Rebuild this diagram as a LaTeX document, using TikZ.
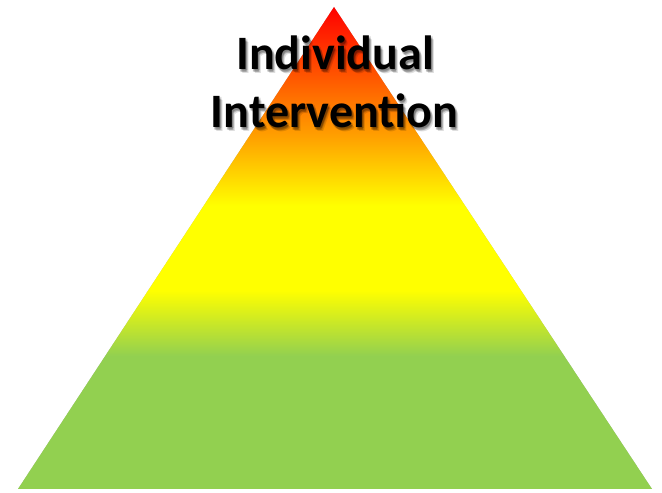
\documentclass[tikz,border=0pt]{standalone}
\usepackage{fontspec}
\setmainfont{Carlito}
\usetikzlibrary{positioning}
\definecolor{topred}{RGB}{255,0,0}
\definecolor{warmorange}{RGB}{255,165,0}
\definecolor{pureyellow}{RGB}{255,255,0}
\definecolor{leafgreen}{RGB}{146,208,80}
% colours run bottom to top; 25bp..75bp covers the triangle
\pgfdeclareverticalshading{pyramid}{100bp}{color(0bp)=(leafgreen); color(38.8bp)=(leafgreen);
  color(45.6bp)=(pureyellow); color(54.4bp)=(pureyellow);
  color(61.2bp)=(warmorange); color(75bp)=(topred); color(100bp)=(topred)}
\tikzset{
    tier label/.style={
        font=\fontsize{48}{58}\selectfont\bfseries,
        inner sep=0pt,
        anchor=base
    },
    tier shadow/.style={
        tier label,
        text=black,
        opacity=0.13
    }
}

\begin{document}
\begin{tikzpicture}[x=1pt,y=1pt]
\useasboundingbox (0,0) rectangle (662,493);
\coordinate (apex) at (334,486);
\coordinate (left) at (18,4);
\coordinate (right) at (652,4);
% soft shadow under the base
\foreach \i in {1,...,4}
  \fill[black,opacity=0.07,shift={(0.6*\i,-\i)}] (apex) -- (left) -- (right) -- cycle;
\shade[shading=pyramid] (apex) -- (left) -- (right) -- cycle;
% blurred text shadow
\foreach \dx/\dy [count=\i] in {1/-2,2/-3,3/-4,2/-1,1/-3}{
  \node[tier shadow] (shadowtop\i) at (335+\dx,423+\dy) {Individual};
  \node[tier shadow] (shadowbot\i) at (334.5+\dx,365+\dy) {Intervention};
}
\node[tier label] (tiertop) at (335,423) {Individual};
\node[tier label] (tierbot) at (334.5,365) {Intervention};
\end{tikzpicture}
\end{document}
